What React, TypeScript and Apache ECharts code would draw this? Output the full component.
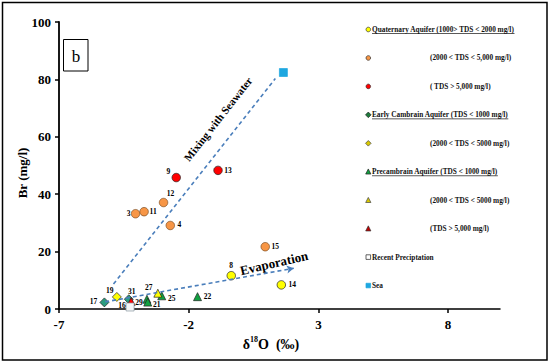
import React, { useEffect, useRef } from 'react';
import * as echarts from 'echarts';

// ---------- data ----------
const xTicks = [-7, -2, 3, 8];

// [δ18O, Br, sample id]
const quatLow: [number, number, string][] = [[-0.36, 11.6, '8'], [1.57, 8.4, '14']];
const quatMid: [number, number, string][] = [
  [-4.05, 33.2, '3'], [-3.72, 33.9, '11'], [-2.97, 37.1, '12'], [-2.71, 29.1, '4'], [0.95, 21.7, '15'],
];
const quatHigh: [number, number, string][] = [[-2.48, 45.8, '9'], [-0.87, 48.3, '13']];
const cambLow: [number, number, string][] = [[-5.25, 2.3, '17'], [-4.31, 3.4, '31']];
const cambMid: [number, number, string][] = [[-4.77, 4.2, '19']];
const preLow: [number, number, string][] = [
  [-3.61, 3.4, ''], [-3.58, 2.4, '21'], [-3.04, 4.6, '25'], [-1.66, 4.3, '22'],
];
const preMid: [number, number, string][] = [[-3.19, 5.5, '27']];
const preHigh: [number, number, string][] = [[-4.22, 2.6, '29']];
const precip: [number, number, string][] = [[-4.26, 0.7, '16']];
const sea: [number, number, string][] = [[1.65, 82.4, '']];

const mixingLine: [number, number][] = [[-4.9, 8.7], [1.34, 80.3]];
const evapLine: [number, number][] = [[-5.22, 2.5], [2.05, 14.2]];

const legendLabels = [
  'Quaternary Aquifer (1000> TDS < 2000 mg/l)',
  '(2000 < TDS < 5,000 mg/l)',
  '( TDS > 5,000 mg/l)',
  'Early Cambrain Aquifer (TDS < 1000 mg/l)',
  '(2000 < TDS < 5000 mg/l)',
  'Precambrain Aquifer (TDS < 1000 mg/l)',
  '(2000 < TDS < 5000 mg/l)',
  '(TDS > 5,000 mg/l)',
  'Recent Preciptation',
  'Sea',
];

// ---------- styling ----------
const FONT = "'Liberation Serif', 'Times New Roman', serif";
const C = {
  yellow: '#FFFF00',
  orange: '#F79646',
  red: '#FF0000',
  teal: '#2A9D7F',
  green: '#10A040',
  white: '#F4F6F8',
  sea: '#1EA7E0',
  line: '#4A7EBB',
};

// label centre offsets relative to marker centre (px)
const labelOffsets: Record<string, [number, number]> = {
  '8': [0, -10], '14': [11, 0], '3': [-7, 0], '11': [9, 0], '12': [7, -9], '4': [9, -1],
  '15': [10, 0], '9': [-8, -6], '13': [10, 0], '17': [-11, -1], '19': [-7, -6], '31': [3, -8],
  '16': [-8, -1], '29': [8, 1], '21': [9, 2], '27': [-9, -6], '25': [10, 3], '22': [10, 0],
};

type LegendStyle = { shape: 'circle' | 'diamond' | 'triangle' | 'rect'; color: string; stroke: string; indent: boolean; underline: boolean };
const legendStyles: LegendStyle[] = [
  { shape: 'circle', color: C.yellow, stroke: '#333', indent: false, underline: true },
  { shape: 'circle', color: C.orange, stroke: '#333', indent: true, underline: false },
  { shape: 'circle', color: C.red, stroke: '#333', indent: true, underline: false },
  { shape: 'diamond', color: '#1E7B3C', stroke: '#222', indent: false, underline: true },
  { shape: 'diamond', color: '#D8C800', stroke: '#444', indent: true, underline: false },
  { shape: 'triangle', color: C.green, stroke: '#222', indent: false, underline: true },
  { shape: 'triangle', color: '#D8C800', stroke: '#444', indent: true, underline: false },
  { shape: 'triangle', color: '#C00000', stroke: '#333', indent: true, underline: false },
  { shape: 'rect', color: '#FFFFFF', stroke: '#222', indent: false, underline: false },
  { shape: 'rect', color: C.sea, stroke: C.sea, indent: false, underline: false },
];

function measure(text: string, font: string): number {
  const ctx = document.createElement('canvas').getContext('2d');
  if (!ctx) return text.length * 3.5;
  ctx.font = font;
  return ctx.measureText(text).width;
}

function pts(arr: [number, number, string][]) {
  return arr.map(([x, y, id]) => ({
    value: [x, y],
    name: id,
    label: { offset: labelOffsets[id] || [0, 0] },
  }));
}

function scatter(name: string, arr: [number, number, string][], symbol: string, size: number, color: string, border = '#222') {
  return {
    type: 'scatter',
    name,
    data: pts(arr),
    symbol,
    symbolSize: size,
    z: 3,
    itemStyle: { color, borderColor: border, borderWidth: 0.7, opacity: 1 },
    label: {
      show: true,
      position: 'inside',
      formatter: '{b}',
      color: '#000',
      fontSize: 7.5,
      fontWeight: 'bold',
      fontFamily: FONT,
    },
  };
}

function buildLegend(): any[] {
  const els: any[] = [];
  const top = 29.5;
  const step = 28.45;
  const mx = 368.3;
  const legendFont = `bold 7.3px ${FONT}`;
  legendLabels.forEach((txt, i) => {
    const st = legendStyles[i];
    const y = top + i * step;
    const s = 2.3;
    const common = { style: { fill: st.color, stroke: st.stroke, lineWidth: 0.7 } };
    if (st.shape === 'circle') els.push({ type: 'circle', shape: { cx: mx, cy: y, r: s }, ...common });
    else if (st.shape === 'diamond')
      els.push({ type: 'polygon', shape: { points: [[mx, y - s - 0.5], [mx + s + 0.5, y], [mx, y + s + 0.5], [mx - s - 0.5, y]] }, ...common });
    else if (st.shape === 'triangle')
      els.push({ type: 'polygon', shape: { points: [[mx, y - s - 0.5], [mx + s + 0.3, y + s], [mx - s - 0.3, y + s]] }, ...common });
    else els.push({ type: 'rect', shape: { x: mx - s, y: y - s, width: 2 * s, height: 2 * s }, ...common });
    const tx = st.indent ? 430 : 372;
    els.push({
      type: 'text',
      x: tx,
      y,
      style: { text: txt, font: legendFont, fill: '#111', align: 'left', verticalAlign: 'middle' },
    });
    if (st.underline) {
      const w = measure(txt, legendFont);
      els.push({ type: 'line', shape: { x1: tx, y1: y + 4, x2: tx + w, y2: y + 4 }, style: { stroke: '#111', lineWidth: 0.7 } });
    }
  });
  return els;
}

export default function App() {
  const ref = useRef<HTMLDivElement>(null);
  useEffect(() => {
    if (!ref.current) return;
    const chart = echarts.init(ref.current, undefined, { renderer: 'svg' });
    const axisLabel = { color: '#000', fontSize: 13, fontWeight: 'bold', fontFamily: FONT };
    const option: any = {
      animation: false,
      backgroundColor: '#fff',
      grid: { left: 59, right: 50, top: 22, bottom: 54 },
      xAxis: {
        type: 'value',
        min: -7,
        max: 10,
        axisLine: { show: true, onZero: false, lineStyle: { color: '#000', width: 1.5 } },
        axisTick: { show: true, customValues: xTicks, length: 4, lineStyle: { color: '#000', width: 1.5 } },
        axisLabel: { ...axisLabel, customValues: xTicks, margin: 9 },
        splitLine: { show: false },
      },
      yAxis: {
        type: 'value',
        min: 0,
        max: 100,
        interval: 20,
        axisLine: { show: true, onZero: false, lineStyle: { color: '#000', width: 1.8 } },
        axisTick: { show: true, length: 4, lineStyle: { color: '#000', width: 1.5 } },
        axisLabel: { ...axisLabel, margin: 8 },
        splitLine: { show: false },
      },
      series: [
        {
          type: 'scatter',
          name: 'mixing',
          data: [],
          silent: true,
          z: 1,
          markLine: {
            silent: true,
            symbol: ['none', 'none'],
            label: { show: false },
            lineStyle: { color: C.line, type: [4, 3], width: 1.6 },
            data: [[{ coord: mixingLine[0] }, { coord: mixingLine[1] }]],
          },
        },
        {
          type: 'scatter',
          name: 'evaporation',
          data: [],
          silent: true,
          z: 1,
          markLine: {
            silent: true,
            symbol: ['none', 'arrow'],
            symbolSize: [6, 7],
            label: { show: false },
            lineStyle: { color: C.line, type: [4, 3], width: 1.6 },
            data: [[{ coord: evapLine[0] }, { coord: evapLine[1] }]],
          },
        },
        scatter('Quaternary low', quatLow, 'circle', 8.5, C.yellow),
        scatter('Quaternary mid', quatMid, 'circle', 8.5, C.orange, '#7a4a20'),
        scatter('Quaternary high', quatHigh, 'circle', 8.5, C.red),
        scatter('Cambrian low', cambLow, 'diamond', 9, C.teal),
        scatter('Cambrian mid', cambMid, 'diamond', 9, C.yellow),
        scatter('Precambrian low', preLow, 'triangle', 8, C.green),
        scatter('Precambrian mid', preMid, 'triangle', 8, C.yellow),
        scatter('Precambrian high', preHigh, 'triangle', 8, C.red),
        scatter('Recent Preciptation', precip, 'rect', 8, C.white, '#8a96a0'),
        scatter('Sea', sea, 'rect', 8, C.sea, C.sea),
      ],
      graphic: [
        { type: 'rect', shape: { x: 2.5, y: 2.5, width: 544.5, height: 357.5 }, style: { fill: 'none', stroke: '#000', lineWidth: 1.5 }, z: 10 },
        { type: 'rect', shape: { x: 63.5, y: 39.5, width: 24.5, height: 31.5 }, style: { fill: '#fff', stroke: '#000', lineWidth: 1 }, z: 10 },
        { type: 'text', x: 76, y: 56, style: { text: 'b', font: `17px ${FONT}`, fill: '#000', align: 'center', verticalAlign: 'middle' }, z: 10 },
        {
          type: 'text', x: 22, y: 173, rotation: Math.PI / 2,
          style: { text: 'Br (mg/l)', font: `bold 13px ${FONT}`, fill: '#000', align: 'center', verticalAlign: 'middle' }, z: 10,
        },
        {
          type: 'text', x: 271, y: 343,
          style: {
            text: '{a|δ}{s|18}{a|O  (‰)}',
            align: 'center', verticalAlign: 'middle', fill: '#000',
            rich: {
              a: { fontSize: 14, fontWeight: 'bold', fontFamily: FONT, lineHeight: 16, verticalAlign: 'bottom' },
              s: { fontSize: 8, fontWeight: 'bold', fontFamily: FONT, lineHeight: 16, verticalAlign: 'top' },
            },
          },
          z: 10,
        },
        {
          type: 'text', x: 218, y: 119, rotation: (52 * Math.PI) / 180,
          style: { text: 'Mixing with Seawater', font: `bold 11px ${FONT}`, fill: '#000', align: 'center', verticalAlign: 'middle' }, z: 10,
        },
        {
          type: 'text', x: 274, y: 263, rotation: (13 * Math.PI) / 180,
          style: { text: 'Evaporation', font: `bold 13px ${FONT}`, fill: '#000', align: 'center', verticalAlign: 'middle' }, z: 10,
        },
        ...buildLegend().map((e) => ({ ...e, z: 10 })),
      ],
    };
    chart.setOption(option);
    return () => chart.dispose();
  }, []);
  return <div ref={ref} style={{ width: 550, height: 363, position: 'absolute', left: 0, top: 0 }} />;
}
